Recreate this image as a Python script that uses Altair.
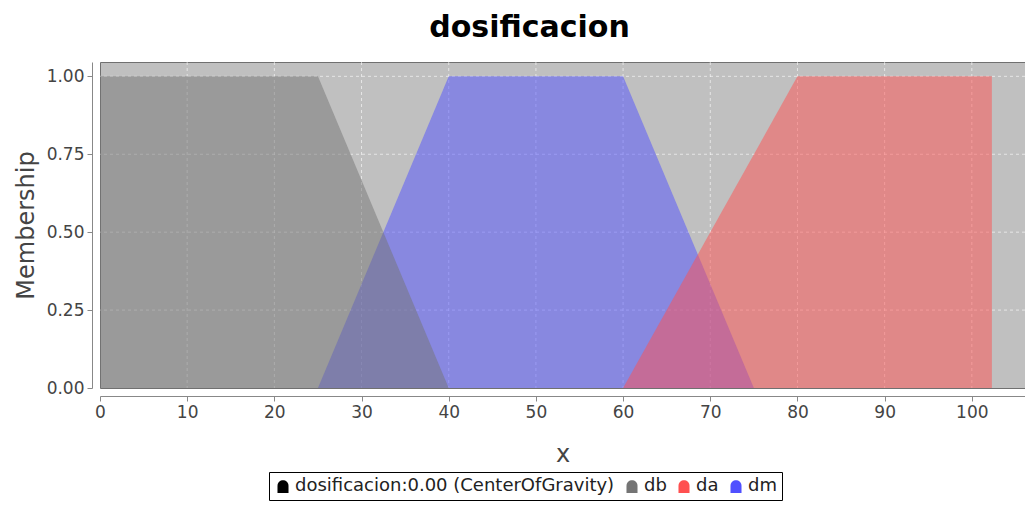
import altair as alt
import pandas as pd

# ---- data ----
db_x = [0, 25, 40]
db_y = [1.0, 1.0, 0.0]
dm_x = [25, 40, 60, 75]
dm_y = [0.0, 1.0, 1.0, 0.0]
da_x = [60, 80, 102.3]
da_y = [0.0, 1.0, 1.0]

legend_labels = ["dosificacion:0.00 (CenterOfGravity)", "db", "da", "dm"]
legend_colors = ["#000000", "#747474", "#FF5050", "#5050FF"]

x_ticks = [0, 10, 20, 30, 40, 50, 60, 70, 80, 90, 100]
y_ticks = [0.0, 0.25, 0.5, 0.75, 1.0]
x_grid = [10, 20, 30, 40, 50, 60, 70, 80, 90, 100]
y_grid = [0.25, 0.5, 0.75, 1.0]

X_MAX = 106.1
Y_MAX = 1.046
W, H = 925, 326

rows = []
for name, xs, ys in (("db", db_x, db_y), ("dm", dm_x, dm_y), ("da", da_x, da_y)):
    for xv, yv in zip(xs, ys):
        rows.append({"series": name, "x": xv, "y": yv})
df = pd.DataFrame(rows)

xscale = alt.Scale(domain=[0, X_MAX], nice=False, zero=False)
yscale = alt.Scale(domain=[0, Y_MAX], nice=False, zero=False)

x_axis = alt.Axis(values=x_ticks, offset=8, title="x", titleFontSize=24,
                  titleFontWeight="normal", titleColor="#444444", titleFont="DejaVu Sans",
                  labelFont="DejaVu Sans", labelFontSize=17, labelColor="#444444",
                  domainColor="#888888", tickColor="#888888", tickSize=5,
                  labelPadding=3, titlePadding=22, grid=False, labelFlush=False)
y_axis = alt.Axis(values=y_ticks, format=".2f", offset=8, title="Membership",
                  titleFontSize=24, titleFontWeight="normal", titleColor="#444444",
                  titleFont="DejaVu Sans", labelFont="DejaVu Sans", labelFontSize=17,
                  labelColor="#444444", domainColor="#888888", tickColor="#888888",
                  tickSize=5, labelPadding=3, titlePadding=8, grid=False, labelFlush=False)

def X(field):
    return alt.X(field, type="quantitative", scale=xscale, axis=x_axis)

def Y(field, stack=False):
    if stack:
        return alt.Y(field, type="quantitative", scale=yscale, axis=y_axis, stack=None)
    return alt.Y(field, type="quantitative", scale=yscale, axis=y_axis)

gx = alt.Chart(pd.DataFrame({"gx": x_grid})).mark_rule(
    color="white", strokeDash=[3, 3], strokeWidth=1, opacity=0.6
).encode(x=X("gx"))
gy = alt.Chart(pd.DataFrame({"gy": y_grid})).mark_rule(
    color="white", strokeDash=[3, 3], strokeWidth=1, opacity=0.6
).encode(y=Y("gy"))

color = alt.Color(
    "series:N",
    scale=alt.Scale(domain=legend_labels, range=legend_colors),
    legend=alt.Legend(
        title=None, orient="none", direction="horizontal",
        legendX=169, legendY=410,
        strokeColor="#000000", fillColor="#ffffff", padding=5,
        labelFont="DejaVu Sans", labelFontSize=18,
        labelColor="#222222", labelLimit=0,
        symbolType="M-0.8,1 L-0.8,0 C-0.8,-1.1 0.8,-1.1 0.8,0 L0.8,1 Z",
        symbolSize=190, symbolOpacity=1, symbolStrokeWidth=0,
        columnPadding=8, labelOffset=3,
    ),
)

def area(name):
    return alt.Chart(df).transform_filter(alt.datum.series == name).mark_area(
        opacity=0.5, interpolate="linear"
    ).encode(x=X("x"), y=Y("y", stack=True), color=color)

chart = alt.layer(gx, gy, area("dm"), area("db"), area("da")).properties(
    width=W, height=H,
    background="white",
    title=alt.TitleParams("dosificacion", fontSize=30, fontWeight="bold",
                          font="DejaVu Sans", color="#000000", anchor="middle",
                          dx=-33, offset=19),
    autosize=alt.AutoSizeParams(type="none"),
    padding={"left": 92, "top": 54, "right": 0, "bottom": 114},
).configure_view(
    fill="#C0C0C0", stroke="#707070", strokeWidth=1
)

chart.save("out.html", embed_options={"renderer": "svg", "actions": False})
